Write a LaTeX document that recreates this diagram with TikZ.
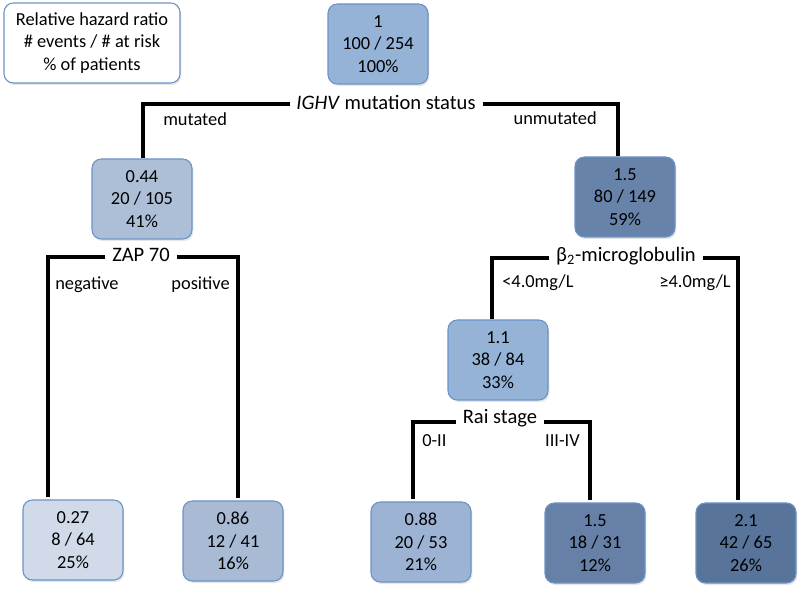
\documentclass[tikz,border=0pt]{standalone}
\usepackage{fontspec}
\setmainfont{Carlito}
\usepackage{xcolor}
\usepackage{tikz}
\usetikzlibrary{positioning, shadows}

\definecolor{boxedge}{RGB}{108,147,198}
\definecolor{hrroot}{RGB}{149,179,215}
\definecolor{hrmut}{RGB}{173,190,215}
\definecolor{hrunmut}{RGB}{104,131,170}
\definecolor{hrlow}{RGB}{149,179,215}
\definecolor{hrneg}{RGB}{208,218,232}
\definecolor{hrpos}{RGB}{168,186,212}
\definecolor{hrearly}{RGB}{157,179,212}
\definecolor{hrlate}{RGB}{103,128,167}
\definecolor{hrhigh}{RGB}{88,116,155}

\begin{document}
\begin{tikzpicture}[
    x=0.75pt, y=-0.75pt,
    riskblock/.style={rectangle, rounded corners=7pt, draw=boxedge, line width=0.8pt, minimum width=75pt, minimum height=60pt, inner sep=0pt, align=center, font=\fontsize{13.8}{16.8}\selectfont, drop shadow={opacity=0.2, shadow xshift=1pt, shadow yshift=-1.5pt}},
    legendblock/.style={riskblock, fill=white, minimum width=132pt, drop shadow={opacity=0}},
    splitlabel/.style={inner xsep=5pt, inner ysep=0pt, font=\fontsize{15.4}{18}\selectfont},
    branchlabel/.style={inner sep=0pt, font=\fontsize{13.8}{16}\selectfont},
    treeline/.style={line width=2.5pt}
]
\useasboundingbox (0,0) rectangle (800,591);

% Legend and root
\node[legendblock] (legend) at (92,43) {Relative hazard ratio\\\# events / \# at risk\\\% of patients};
\node[riskblock, fill=hrroot] (root) at (378,44) {1\\100 / 254\\100\%};

% First split
\node[splitlabel] (ighv) at (386,102) {\textit{IGHV} mutation status};
\node[riskblock, fill=hrmut] (ighvmut) at (142,199) {0.44\\20 / 105\\41\%};
\node[riskblock, fill=hrunmut] (ighvunmut) at (625,197) {1.5\\80 / 149\\59\%};
\coordinate (ighvL) at (143,104);
\coordinate (ighvR) at (618,104);
\draw[treeline] (ighv.west |- ighvL) -- (ighvL) -- (ighvL |- ighvmut.north);
\draw[treeline] (ighv.east |- ighvR) -- (ighvR) -- (ighvR |- ighvunmut.north);
\node[branchlabel, anchor=west] (mutlabel) at (163,119) {mutated};
\node[branchlabel, anchor=east] (unmutlabel) at (597,118) {unmutated};

% ZAP 70 split
\node[splitlabel] (zap) at (141,255) {ZAP 70};
\node[riskblock, fill=hrneg] (zapneg) at (73,540) {0.27\\8 / 64\\25\%};
\node[riskblock, fill=hrpos] (zappos) at (233,541) {0.86\\12 / 41\\16\%};
\coordinate (zapL) at (48,257);
\coordinate (zapR) at (238,257);
\draw[treeline, shorten >=2pt] (zap.west |- zapL) -- (zapL) -- (zapL |- zapneg.north);
\draw[treeline, shorten >=2pt] (zap.east |- zapR) -- (zapR) -- (zapR |- zappos.north);
\node[branchlabel, anchor=west] (neglabel) at (55,285) {negative};
\node[branchlabel, anchor=east] (poslabel) at (230,285) {positive};

% beta2-microglobulin split
\node[splitlabel] (beta) at (626,256) {β\textsubscript{2}-microglobulin};
\node[riskblock, fill=hrlow] (b2low) at (498,360) {1.1\\38 / 84\\33\%};
\node[riskblock, fill=hrhigh] (b2high) at (746,543) {2.1\\42 / 65\\26\%};
\coordinate (betaL) at (492,258);
\coordinate (betaR) at (738,258);
\draw[treeline] (beta.west |- betaL) -- (betaL) -- (betaL |- b2low.north);
\draw[treeline, shorten >=2pt] (beta.east |- betaR) -- (betaR) -- (betaR |- b2high.north);
\node[branchlabel, anchor=west] (lowlabel) at (502,283) {<4.0mg/L};
\node[branchlabel, anchor=east] (highlabel) at (731,283) {≥4.0mg/L};

% Rai stage split
\node[splitlabel] (rai) at (500,418) {Rai stage};
\node[riskblock, fill=hrearly] (raiearly) at (421,542) {0.88\\20 / 53\\21\%};
\node[riskblock, fill=hrlate] (railate) at (595,543) {1.5\\18 / 31\\12\%};
\coordinate (raiL) at (413,422);
\coordinate (raiR) at (590,422);
\draw[treeline, shorten >=2pt] (rai.west |- raiL) -- (raiL) -- (raiL |- raiearly.north);
\draw[treeline, shorten >=2pt] (rai.east |- raiR) -- (raiR) -- (raiR |- railate.north);
\node[branchlabel, anchor=west] (earlylabel) at (422,441) {0-II};
\node[branchlabel, anchor=east] (latelabel) at (580,441) {III-IV};

\end{tikzpicture}
\end{document}
